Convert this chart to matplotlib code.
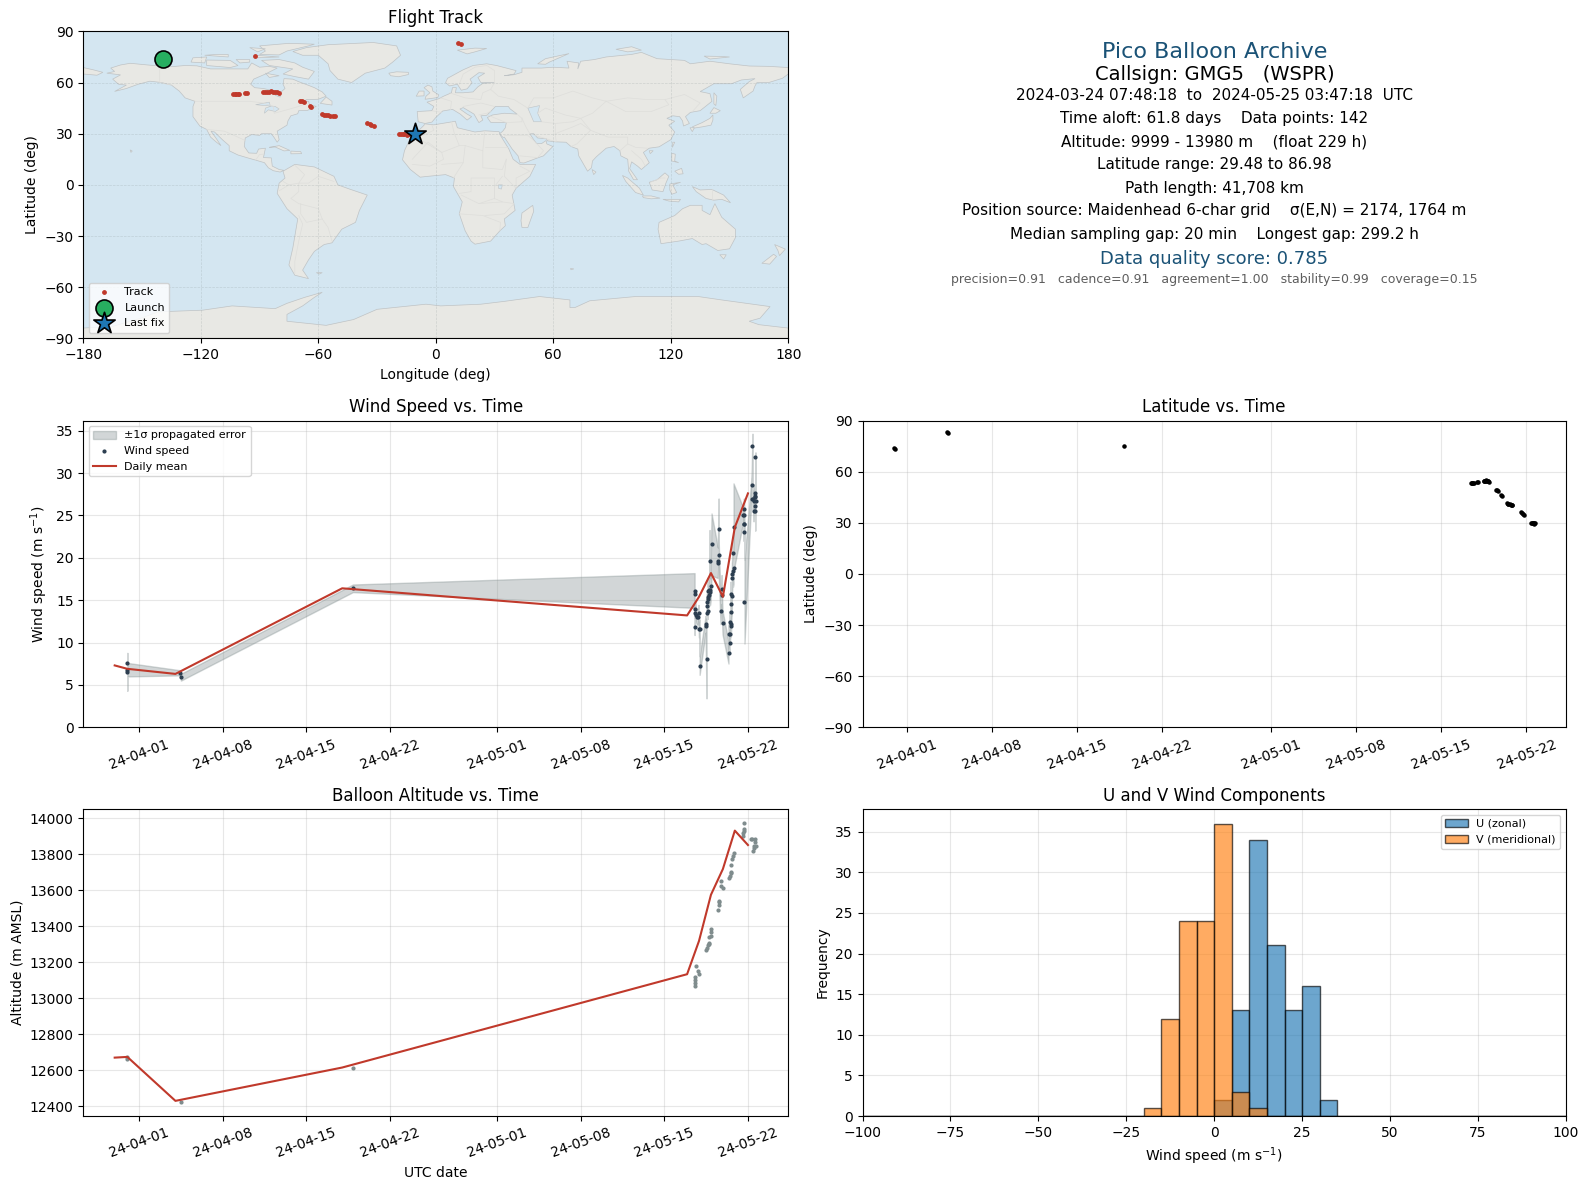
import datetime as dt
import numpy as np
import matplotlib
matplotlib.use("Agg")
import matplotlib.pyplot as plt
import matplotlib.dates as mdates
from matplotlib.patches import Polygon
from matplotlib.ticker import FixedLocator

# ---------- data (days are counted from 2024-04-01) ----------
wind_day = [-1.0,-1.0,-1.0,3.43,3.49,17.9,
 46.53,46.53,46.53,46.56,46.58,46.64,46.72,46.83,46.86,46.89,46.95,46.95,
 47.45,47.45,47.53,47.53,47.53,47.59,47.62,47.62,47.62,47.64,47.70,47.76,47.78,47.81,47.84,47.87,47.95,
 48.48,48.48,48.54,48.54,48.70,48.79,48.79,48.87,
 49.37,49.37,49.46,49.46,49.48,49.54,49.54,49.54,49.54,49.57,49.65,49.65,49.68,49.71,49.74,49.79,49.79,
 50.57,50.63,50.63,50.66,50.66,50.71,50.71,
 51.30,51.38,51.38,51.44,51.47,51.49,51.55,51.55,51.55,51.61,51.61,51.63,51.66]
wind_speed = [7.62,6.55,6.8,6.43,5.91,16.4,
 16.14,15.67,11.89,13.54,13.90,13.23,13.03,13.07,13.54,11.54,11.54,7.29,
 12.17,11.97,8.11,13.43,14.37,14.80,13.78,15.08,16.14,15.39,15.59,16.18,19.57,15.99,16.18,16.69,21.57,
 19.41,19.64,23.34,20.31,13.78,16.26,15.59,12.36,
 8.82,10.95,9.89,12.40,10.95,12.17,13.66,14.49,15.67,11.93,15.55,17.56,18.07,20.51,18.46,18.82,23.58,
 25.0,25.0,23.1,23.97,25.7,23.97,14.84,
 28.54,33.14,26.88,26.96,25.5,26.73,27.59,27.32,26.1,27.12,25.5,31.84,26.65]
wind_sigma = [0.3,2.22,0.8,0.3,0.4,0.45,
 2.05,1.2,1.0,0.9,0.9,0.8,0.9,1.0,0.9,0.9,1.2,1.1,
 1.0,1.0,4.7,1.2,1.3,1.2,1.0,1.5,1.5,1.2,1.5,1.5,3.7,1.6,1.6,1.8,3.66,
 1.8,1.8,3.66,2.0,1.6,1.7,1.6,1.4,
 1.3,1.2,1.2,1.3,1.1,1.2,1.2,1.4,1.5,1.2,1.5,1.8,1.8,2.0,1.9,1.9,5.2,
 1.0,1.1,1.1,1.0,1.3,1.0,4.96,
 1.0,1.5,1.2,1.0,1.2,1.1,1.1,1.1,1.1,1.1,2.3,0.6,1.2]

mean_day = [-2.06,-1.0,3.03,17.0,45.9,46.9,47.9,48.9,49.9,51.0]
wind_mean = [7.3,6.9,6.3,16.4,13.2,15.4,18.2,15.4,23.6,27.6]
alt_mean = [12670,12674,12430,12615,13133,13318,13574,13717,13930,13850]

alt_day = [-1.0,-1.0,3.5,17.9,
 46.53,46.53,46.53,46.56,46.65,46.78,46.92,
 47.48,47.56,47.65,47.70,47.76,47.76,47.90,47.90,47.90,
 48.48,48.54,48.54,48.54,48.70,48.76,48.87,
 49.37,49.48,49.57,49.62,49.62,49.68,49.74,49.79,
 50.55,50.60,50.63,50.68,50.71,
 51.27,51.38,51.41,51.49,51.52,51.55,51.58,51.66]
alt_m = [12672,12660,12424,12611,
 13118,13083,13069,13102,13176,13152,13135,
 13270,13281,13293,13300,13309,13337,13346,13370,13383,
 13489,13518,13535,13541,13622,13650,13609,
 13667,13680,13694,13702,13737,13772,13791,13804,
 13902,13917,13930,13939,13972,
 13883,13883,13818,13831,13846,13883,13865,13846]

track_day = [-1.0,-0.95,3.3,3.4,17.9,
 46.46,46.5,46.55,46.62,46.7,46.9,47.0,47.47,47.52,47.58,47.63,47.69,47.75,47.8,47.86,47.91,
 48.46,48.55,48.65,48.87,48.95,49.39,49.45,49.52,49.61,49.7,49.78,49.83,
 50.58,50.65,50.72,50.77,51.4,51.45,51.5,51.55,51.6,51.65,51.7]
track_lat = [73.8,73.2,83.0,82.8,75.3,
 53.1,53.2,53.3,53.4,53.5,53.9,54.1,54.5,54.6,54.6,54.7,54.8,54.6,54.5,54.3,53.8,
 49.4,49.0,48.6,46.2,45.5,41.4,41.2,41.0,40.8,40.5,40.3,40.2,
 36.2,35.6,35.2,34.7,29.9,29.9,29.9,29.7,29.5,29.7,29.9]
track_lon = [-139.5,-139.6,11.3,13.0,-92.5,
 -103.4,-102.6,-101.8,-101.0,-100.3,-97.3,-96.2,-88.4,-87.4,-86.4,-85.4,-84.4,-83.2,-82.2,-81.0,-79.9,
 -69.2,-68.4,-67.4,-64.3,-63.8,-58,-57,-56,-55,-53.8,-52.6,-51.5,
 -34.9,-33.8,-33,-31.8,-19,-18,-17,-16,-14.8,-13.5,-10.9]
launch_lon, launch_lat = -139.5, 73.8
last_lon, last_lat = -10.5, 29.9

hist_edges = list(range(-100, 105, 5))
u_bins = {0: 2, 5: 13, 10: 34, 15: 21, 20: 13, 25: 16, 30: 2}
v_bins = {-20: 1, -15: 12, -10: 24, -5: 24, 0: 36, 5: 3, 10: 1}
date_tick_days = [0, 7, 14, 21, 30, 37, 44, 51]

info_lines = [
 "2024-03-24 07:48:18  to  2024-05-25 03:47:18  UTC",
 "Time aloft: 61.8 days    Data points: 142",
 "Altitude: 9999 - 13980 m    (float 229 h)",
 "Latitude range: 29.48 to 86.98",
 "Path length: 41,708 km",
 "Position source: Maidenhead 6-char grid    \u03c3(E,N) = 2174, 1764 m",
 "Median sampling gap: 20 min    Longest gap: 299.2 h",
]

# ---------- world outline (lon, lat) ----------
land_polys = {
"north_america": [(-168,65.5),(-164,66.5),(-166,68.5),(-161,70.3),(-156,71.3),(-148,70.4),(-141,69.7),(-135,69.3),(-128,70),(-122,69.8),(-115,68),(-108,68),(-102,68),(-96,68),(-94,71.5),(-90,69),(-85,69.5),(-81,68.5),(-87,65),(-93,62),(-94.5,59),(-92.5,57),(-88,56.5),(-82.5,55),(-82,52.5),(-79.5,51.5),(-79,54.5),(-77,56.5),(-78,59),(-77.5,62.3),(-73,62),(-70,60.5),(-66,58.8),(-62,57),(-58,54.5),(-56,52),(-60,50.2),(-66,50),(-69,48),(-65,49),(-64.5,47),(-61,46),(-65.5,43.7),(-70,43.5),(-70.5,41.7),(-74,40.5),(-75.5,37.5),(-76,35),(-81,31.5),(-80,26.5),(-81,25),(-82.7,28),(-84,30),(-89,30),(-90,29),(-94,29.5),(-97.3,27.5),(-97.8,22.5),(-95.5,18.7),(-91.5,18.5),(-90.5,21),(-87,21.5),(-88,16),(-84,15.8),(-83.5,11),(-80,9),(-77.5,8.5),(-79.5,7.5),(-83,8.3),(-85.5,10),(-87.5,13),(-92,14.5),(-96,15.8),(-101,17.5),(-105.5,20),(-105.5,23),(-109,26.5),(-113,31),(-114.8,31.5),(-112,27),(-109.7,23),(-112,25),(-115,28),(-117,32.5),(-120.5,34.5),(-124,40),(-124,46),(-123,49),(-128,51),(-131,55),(-135,58.5),(-140,60),(-146,60.8),(-152,59),(-158,56.5),(-164,54.8),(-158,58.5),(-162,59),(-165,62),(-161,64.5)],
"greenland": [(-73,78.2),(-66,80.5),(-55,82.2),(-32,83.5),(-20,81.5),(-18,76),(-22,72),(-26,68.5),(-36,65.5),(-43,60),(-50,62),(-54,67),(-55,71),(-60,76),(-68,76)],
"baffin": [(-80,73.5),(-72,71.5),(-68,69),(-62,66.5),(-65,62),(-72,63.5),(-78,65),(-73,68),(-85,70),(-89,73)],
"ellesmere": [(-90,76.5),(-80,76.2),(-76,78.5),(-65,81.5),(-62,82.5),(-75,83),(-90,81.5),(-87,78.5)],
"victoria": [(-117,70),(-105,68.8),(-101,70),(-105,73),(-117,73.2)],
"banks": [(-125,72),(-118,71.5),(-117,75),(-124,74.5)],
"devon": [(-92,76),(-80,75),(-92,74.5)],
"axel": [(-95,80.5),(-87,79.8),(-91,78)],
"melville": [(-118,76),(-106,75),(-106,76.5),(-112,76.5)],
"wales": [(-102,73.5),(-95,73.5),(-95,72),(-100,71.5)],
"southampton": [(-87,65.5),(-80,64),(-85,63)],
"newfoundland": [(-59,47.8),(-53,46.8),(-53,49),(-56,51.5)],
"cuba": [(-85,22),(-80,23),(-74.5,20.2),(-77.5,19.9),(-82,22.2)],
"hispaniola": [(-74,19.8),(-69,19.5),(-68.5,18.3),(-74,18.2)],
"hawaii": [(-156,20.5),(-155,19.8),(-155.7,19)],
"south_america": [(-78,8),(-72,12),(-62,10.5),(-52,5),(-50,0),(-44,-2.5),(-35,-6),(-39,-15),(-41,-22),(-48,-26),(-53,-34),(-57,-35),(-62,-39),(-65,-44),(-68,-50),(-65,-55),(-72,-53),(-75,-47),(-73,-37),(-70.5,-20),(-76,-14),(-81,-5),(-80,1),(-77,4)],
"africa": [(-5.8,35.8),(-1,35.2),(10,37.3),(11,33.5),(20,31),(25,31.7),(32.3,31.2),(33,29),(35.7,24),(37.3,21),(39.5,15),(43,12),(51,12),(48,5),(41,-2),(39,-6),(40.5,-15),(35,-20),(35.5,-24),(32.7,-27),(28,-33),(20,-34.8),(18,-33),(15,-27),(12,-17),(13.5,-10),(9,-1),(9.5,4),(5,6),(-4,5),(-8,4.5),(-13,9),(-17,14.7),(-16,20),(-13,27.5),(-9.5,31),(-6,35)],
"eurasia": [(-9,37),(-9.5,43),(-2,43.5),(-1,46),(-4.5,48.5),(1.5,50.5),(4,52),(8,54),(8.5,57),(10.5,57),(10,54),(14,54),(19,54.5),(21.5,57.5),(24,59.5),(30,60),(23,60),(21.5,63),(25,65.5),(22,65.8),(17.5,62),(18.5,59.8),(16,56.3),(13,55.5),(11,59),(7,58),(5,60),(6,62.5),(14,67.5),(19,70),(26,71),(31,70),(41,67),(40,65),(35,64),(40,64.6),(44,66),(44,68.5),(54,68.5),(60,69),(68,68.5),(67,72.5),(73,71.5),(72.5,68),(74,72.5),(81,73.5),(87,75),(100,76.5),(105,77.7),(113,74),(127,73),(130,71),(140,72.5),(150,71),(160,69.7),(170,69.5),(180,68.8),(180,65),(177,62.5),(170,60),(164,60),(163,58),(162,55),(157,51),(155.5,56),(160,60.5),(163,62.3),(156,61.5),(151,59.3),(142,59.3),(135,54.7),(140,53.5),(141,49),(135,43.5),(130,42.5),(127.5,40),(129.5,36),(126.5,34.5),(126,37.5),(124.5,40),(121,40.5),(118,39),(122,37.3),(119,35),(122,31),(120,26.5),(114,22.3),(109,21.5),(106,19),(109,13),(105,9),(103,11),(100,13.5),(99,9.5),(103,3),(101,3),(98.5,8),(98,15),(94.5,17),(94,20),(91,22.5),(87,21.5),(82,16.5),(80,14),(79.5,10),(77.5,8),(73,17),(72.5,21),(69,22.5),(66.5,25),(61.5,25.2),(57,25.8),(56.5,27),(52,27.5),(50,30),(48,30),(50,26.5),(51.5,24.2),(54,24.2),(56.3,26),(56.7,24),(59.8,22.5),(55,17),(52,15.8),(45,12.8),(43,13),(42,17),(39,21),(35,28),(34.3,27.8),(32.6,30),(34.2,31.5),(35.5,33.5),(36,36.5),(31,36.5),(28,36.7),(26.3,39.5),(29,41),(35,42),(41.5,41.5),(38,44.5),(37,46),(33,46),(30.5,46),(28,43),(26,40.8),(23,40.5),(24,38),(22,36.5),(19.5,41.5),(14,45.3),(12.3,44.5),(16,41.5),(18.3,40),(16,38),(12.5,41.5),(8.5,44.3),(3.5,43.3),(0,39.5),(-2,36.8),(-5.5,36)],
"chukotka": [(-180,68.8),(-175,67.5),(-170,66),(-173,64.3),(-180,65)],
"britain": [(-5.5,50.2),(1,51.2),(1.5,52.8),(-1.5,55),(-2,57.5),(-4,58.5),(-6,57),(-3,54),(-5,52)],
"ireland": [(-10,52),(-6,52.2),(-6,55),(-8.5,55)],
"iceland": [(-24,65.5),(-20,66.3),(-14,66),(-14,64.7),(-19,63.4),(-23,64)],
"svalbard": [(11,79),(20,80.2),(26,80),(20,78),(16,76.8)],
"novaya": [(52,71),(56,74),(68,77),(66,76),(58,72),(56,70.7)],
"severnaya": [(92,79.5),(100,81),(105,79),(98,78)],
"siberian": [(137,75.5),(146,75.3),(150,75),(140,73.8)],
"madagascar": [(44,-16.5),(49.5,-12),(50,-15.5),(47,-25),(44,-25),(43.5,-21)],
"srilanka": [(79.8,9),(81.8,7.5),(80.6,6)],
"sumatra": [(95.3,5.5),(98,4),(104,-2),(106,-6),(102,-4.5),(97,2)],
"java": [(105.5,-6.5),(110,-6.5),(114.5,-7.8),(110,-8.2),(106,-7.5)],
"timor": [(116,-8.5),(119,-8.5),(125,-8.5),(124,-10),(119,-9.5)],
"borneo": [(109,1.5),(113,3),(117,7),(119,5),(117.5,1),(116,-4),(110.5,-3)],
"sulawesi": [(119.5,0.5),(125,1.5),(121,0),(123,-4.5),(120.5,-5.5),(119.5,-3)],
"new_guinea": [(131,-1),(135,-3),(141,-2.7),(147,-6),(150.5,-10.5),(146,-8.5),(142,-9),(138,-8),(133,-4)],
"philippines": [(120.5,18.5),(122.3,18),(122,14),(124,13),(120.5,14)],
"mindanao": [(122,8),(125.5,9.7),(126.3,6.5),(124,6.2)],
"taiwan": [(121,25),(122,25),(120.8,22)],
"hainan": [(109,20),(111,20),(109.5,18.3)],
"honshu": [(131,34),(136,36.5),(140,39),(141.5,41),(141.5,38),(140.5,35),(136,34),(132,33.3)],
"hokkaido": [(140,42),(142,45.3),(145.3,43.5),(143,42)],
"kyushu": [(129.8,33.5),(132,33.5),(131,31.2)],
"sakhalin": [(142,54),(143.5,52),(143,46.5),(142,47.5)],
"australia": [(114,-22),(122,-18),(126,-14),(130,-12),(136,-12),(136,-15),(140,-17.5),(142.5,-11),(146,-19),(153,-26),(153,-31),(150,-37.5),(144,-38.5),(138,-34.5),(136,-35),(131,-31.5),(124,-33),(115,-34.5),(113.5,-26)],
"tasmania": [(145,-41),(148.3,-41),(147,-43.5)],
"nz_north": [(173,-35),(178.5,-37.7),(175.5,-41.5),(174.7,-38.5)],
"nz_south": [(172.5,-40.7),(174,-42),(170.5,-46.5),(166.5,-46)],
"kerguelen": [(68.8,-49),(70.5,-49.3),(69,-49.8)],
"falkland": [(-61,-51.5),(-58,-51.5),(-59.5,-52.3)],
"antarctica": [(-180,-90),(-180,-84),(-165,-83),(-150,-78),(-142,-74.5),(-119,-73.5),(-104,-71),(-82,-72.6),(-76,-69.5),(-67,-66),(-58,-63),(-62,-66),(-68,-71),(-76,-76),(-76,-80),(-56,-82.4),(-42,-79),(-30,-73),(-5,-70),(2.5,-71),(23,-70),(34.6,-68.4),(53,-65.5),(68.5,-67.5),(68.5,-72),(71,-72),(78.6,-68),(102,-65.5),(134,-65.5),(146,-67.5),(170.7,-71.4),(165.6,-78.2),(160,-80),(165,-82),(180,-84),(180,-90)],
}
lake_polys = {
"caspian": [(47,45),(53,46.5),(52,42),(54,37),(50,37),(48.5,41)],
"great_lakes": [(-92,47),(-85,48.5),(-84.5,46),(-87,45),(-87.5,42),(-85.5,44),(-82,43),(-80,44.5),(-82,46),(-87,46.5)],
"victoria": [(32,0),(34,0),(33.5,-2.5),(32,-2)],
}
border_lines = {
"us_canada": [(-123,49),(-95,49),(-88,48),(-83,46),(-82.5,42),(-76,44),(-70,46),(-67,47.3)],
"alaska": [(-141,69.7),(-141,60),(-135,58.5)],
"us_mexico": [(-117,32.5),(-108,31.5),(-103,29),(-97.3,26)],
"centam": [(-92,14.5),(-90,17.8),(-88,18)],
"brazil": [(-52,2),(-60,5),(-65,1),(-70,1),(-70,-4),(-74,-8),(-70,-11),(-60,-14),(-58,-20),(-55,-25),(-54,-29),(-53,-33)],
"andes": [(-70,-18),(-68,-23),(-70,-33),(-72,-45),(-72,-52)],
"colombia": [(-72,11.5),(-67,6),(-70,1),(-75,0),(-78,2)],
"bolivia": [(-69,-11),(-69,-17),(-66,-22),(-58,-20)],
"peru": [(-80,-3.5),(-75,0)],
"algeria": [(-2,35),(-1,32),(-8.6,28),(-8.6,27),(3,19),(12,23),(9.5,30),(8,37)],
"mali": [(-12,15),(-4,25),(3,19),(4,15),(-3,11),(-12,12)],
"libya": [(12,23),(15,23),(24,20),(25,31.7)],
"egypt": [(25,22),(37,22)],
"sudan": [(24,20),(24,10),(34,9),(36,15)],
"central": [(14,13),(15,23)],
"nigeria": [(3,12),(14,13),(9,4)],
"congo": [(12,-5),(18,-4),(18,4),(30,4),(30,-8),(22,-11),(13,-6)],
"south": [(12,-17),(24,-18),(33,-22),(32.7,-27)],
"zambia": [(22,-11),(34,-10),(40,-11),(35,-17),(25,-18)],
"horn": [(36,15),(35,5),(41,-2),(41,4),(48,8),(43,11)],
"east": [(34,5),(30,-1),(30,-8),(34,-10)],
"russia_south": [(30,60),(28,56),(32,52),(40,50),(47,45),(50,51),(60,51),(70,55),(80,51),(87,49),(98,51),(108,50),(117,50),(127,53),(135,48),(131,43)],
"china_west": [(87,49),(80,42),(74,39),(79,32),(88,28),(98,28),(98,24),(102,22),(108,21.5)],
"mongolia": [(87,49),(97,43),(110,43),(119,47),(117,50)],
"iran": [(44,39),(46,34),(48,30),(61.5,25.2),(61,30),(61,36),(54,37)],
"central_asia": [(52,42),(56,45),(66,41),(74,39),(70,37),(61,36)],
"pakistan": [(61,30),(70,34),(74,36),(79,32),(72,24),(69,22.5)],
"saudi": [(35,29),(47,29),(50,26),(55,20),(52,16),(43,17)],
"turkey": [(26.3,41),(36,36.5),(44,37),(44,39),(41.5,41.5)],
"europe": [(-1.8,43.4),(3,42.5)],
"europe2": [(2.5,51),(8,49),(7.5,44)],
"europe3": [(7,54),(15,51),(23,50),(24,54),(28,56)],
"europe4": [(14,46),(23,48),(30,46)],
"europe5": [(22,41),(26,42),(28,43)],
"scand": [(12,59),(14,65),(20,69),(26,70)],
"finland": [(30,60),(30,67),(26,70)],
"seasia": [(98,24),(94,20)],
"thai": [(100,20),(105,15),(107,11)],
"png": [(141,-2.7),(141,-9)],
"borneo_b": [(109.5,1.5),(115,4),(117,4)],
}

# ---------- layout helpers ----------
FIG_W, FIG_H = 1590, 1189
def px_axes(left, top, right, bottom):
    return fig.add_axes([left/FIG_W, 1-bottom/FIG_H, (right-left)/FIG_W, (bottom-top)/FIG_H])
def to_num(days):
    return mdates.date2num(dt.datetime(2024, 4, 1)) + np.asarray(days, float)
def style_time(ax, lo, hi):
    ax.set_xlim(to_num(lo), to_num(hi))
    ax.xaxis.set_major_locator(FixedLocator(to_num(date_tick_days)))
    ax.xaxis.set_major_formatter(mdates.DateFormatter("%y-%m-%d"))
    ax.tick_params(axis="x", labelrotation=20)
    ax.grid(True, alpha=0.3)
    ax.set_axisbelow(True)

C_RED = "#c0392b"; C_DARK = "#2c3e50"; C_GREY = "#7f8c8d"; C_BLUE = "#1a5276"
fig = plt.figure(figsize=(15.9, 11.89), dpi=100)

# ---------- map ----------
ax = px_axes(83.3, 31.4, 788.3, 338.3)
ax.set_facecolor("#d4e6f1")
for name, poly in land_polys.items():
    ax.add_patch(Polygon(poly, closed=True, facecolor="#e8e8e4", edgecolor="#bfc3c5", lw=0.5, zorder=1))
for name, poly in lake_polys.items():
    ax.add_patch(Polygon(poly, closed=True, facecolor="#d4e6f1", edgecolor="#bfc3c5", lw=0.4, zorder=1.2))
for name, line in border_lines.items():
    xs, ys = zip(*line)
    ax.plot(xs, ys, color="#dededb", lw=0.5, zorder=1.3)
ax.grid(True, color="#7f8c8d", alpha=0.25, lw=0.5, ls="--", zorder=1.5)
ax.scatter(track_lon, track_lat, s=6, color=C_RED, label="Track", zorder=3)
ax.scatter([launch_lon], [launch_lat], s=150, color="#27ae60", edgecolor="black", lw=1.2, label="Launch", zorder=5)
ax.scatter([last_lon], [last_lat], s=260, marker="*", color="#1f77b4", edgecolor="black", lw=1.2, label="Last fix", zorder=5)
ax.set_xlim(-180, 180); ax.set_ylim(-90, 90)
ax.set_xticks(range(-180, 181, 60)); ax.set_yticks(range(-90, 91, 30))
ax.set_xlabel("Longitude (deg)"); ax.set_ylabel("Latitude (deg)")
ax.set_title("Flight Track", fontsize=12)
ax.legend(loc="lower left", fontsize=8, framealpha=0.8)

# ---------- info text ----------
cx = 1214.5/FIG_W
def put(y, s, **kw):
    fig.text(cx, 1-y/FIG_H, s, ha="center", va="center", **kw)
put(51.5, "Pico Balloon Archive", fontsize=16, color=C_BLUE)
put(75, "Callsign: GMG5   (WSPR)", fontsize=14, color="black")
for y, s in zip([96, 119, 142, 165, 188, 211, 234], info_lines):
    put(y, s, fontsize=11, color="black")
put(259, "Data quality score: 0.785", fontsize=13, color=C_BLUE)
put(279.5, "precision=0.91   cadence=0.91   agreement=1.00   stability=0.99   coverage=0.15", fontsize=9, color="#555555", alpha=0.95)

# ---------- wind speed ----------
ax = px_axes(83.3, 420.5, 788.3, 727.3)
wd = to_num(wind_day); ws = np.array(wind_speed); sg = np.array(wind_sigma)
ax.fill_between(wd, ws-sg, ws+sg, color=C_GREY, alpha=0.35, label="\u00b11\u03c3 propagated error")
ax.scatter(wd, ws, s=4, color=C_DARK, label="Wind speed", zorder=3)
ax.plot(to_num(mean_day), wind_mean, color=C_RED, lw=1.5, label="Daily mean", zorder=4)
style_time(ax, -4.69, 54.38)
ax.set_ylim(0, 36.2); ax.set_yticks(range(0, 36, 5))
ax.set_ylabel("Wind speed (m s$^{-1}$)")
ax.set_title("Wind Speed vs. Time", fontsize=12)
ax.legend(loc="upper left", fontsize=8, framealpha=0.8)

# ---------- latitude ----------
ax = px_axes(862.5, 420.5, 1566, 727.3)
ax.scatter(to_num(track_day), track_lat, s=5, color="black", zorder=3)
style_time(ax, -3.62, 54.25)
ax.set_ylim(-90, 90); ax.set_yticks(range(-90, 91, 30))
ax.set_ylabel("Latitude (deg)")
ax.set_title("Latitude vs. Time", fontsize=12)

# ---------- altitude ----------
ax = px_axes(83.3, 809, 788.3, 1116)
ax.scatter(to_num(alt_day), alt_m, s=4, color=C_GREY, zorder=3)
ax.plot(to_num(mean_day), alt_mean, color=C_RED, lw=1.5, zorder=4)
style_time(ax, -4.69, 54.38)
ax.set_ylim(12346, 14050); ax.set_yticks(range(12400, 14001, 200))
ax.set_xlabel("UTC date"); ax.set_ylabel("Altitude (m AMSL)")
ax.set_title("Balloon Altitude vs. Time", fontsize=12)

# ---------- histogram ----------
ax = px_axes(862.5, 809, 1566, 1116)
edges = np.array(hist_edges[:-1])
u_counts = [u_bins.get(int(e), 0) for e in edges]
v_counts = [v_bins.get(int(e), 0) for e in edges]
ax.bar(edges, u_counts, width=5, align="edge", color="#1f77b4", alpha=0.65, edgecolor="black", lw=1.0, label="U (zonal)", zorder=2)
ax.bar(edges, v_counts, width=5, align="edge", color="#ff7f0e", alpha=0.65, edgecolor="black", lw=1.0, label="V (meridional)", zorder=2)
ax.set_xlim(-100, 100); ax.set_ylim(0, 37.8)
ax.set_xticks(range(-100, 101, 25)); ax.set_yticks(range(0, 36, 5))
ax.grid(True, alpha=0.3); ax.set_axisbelow(True)
ax.set_xlabel("Wind speed (m s$^{-1}$)"); ax.set_ylabel("Frequency")
ax.set_title("U and V Wind Components", fontsize=12)
ax.legend(loc="upper right", fontsize=8, framealpha=0.8)

fig.savefig("out.png", dpi=100)
